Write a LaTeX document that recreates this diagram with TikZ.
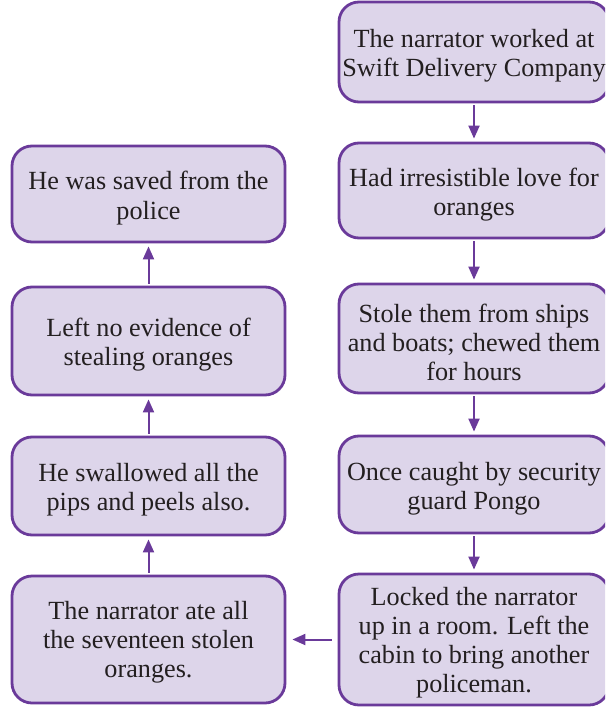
\documentclass[tikz,border=0pt]{standalone}
\usepackage{fontspec}
\setmainfont{Liberation Serif}
\usetikzlibrary{arrows.meta}
\definecolor{boxfill}{HTML}{DDD5EA}
\definecolor{boxline}{HTML}{6A3A9A}
\definecolor{txt}{HTML}{231F20}
\begin{document}
\begin{tikzpicture}[x=1pt,y=1pt,
  box/.style={draw=boxline, fill=boxfill, line width=2.8pt, rounded corners=20pt, inner sep=0pt},
  rbox/.style={box, minimum width=270pt},
  lbox/.style={box, minimum width=273pt},
  lbl/.style={align=center, font=\fontsize{26.2}{29.2}\selectfont, text=txt, inner sep=0pt},
  conn/.style={draw=boxline, line width=2pt, -{Triangle[length=13pt,width=11pt]},
    shorten >=3pt, shorten <=2pt}]
\useasboundingbox (0,0) rectangle (605,-708);
\clip (0,0) rectangle (605,-708);
% right column
\node[rbox, minimum height=100pt] (r1) at (474,-52) {};
\node[rbox, minimum height=95pt] (r2) at (474,-190.5) {};
\node[rbox, minimum height=109pt] (r3) at (474,-338.5) {};
\node[rbox, minimum height=97pt] (r4) at (474,-484.5) {};
\node[rbox, minimum height=131pt] (r5) at (474,-639.5) {};
\node[lbl] (r1t) at ([yshift=-4pt]r1.center) {The narrator worked at\\Swift Delivery Company};
\node[lbl] (r2t) at ([yshift=-4pt]r2.center) {Had irresistible love for\\oranges};
\node[lbl] (r3t) at ([yshift=-4pt]r3.center) {Stole them from ships\\and boats; chewed them\\for hours};
\node[lbl] (r4t) at ([yshift=-4pt]r4.center) {Once caught by security\\guard Pongo};
\node[lbl] (r5t) at ([yshift=-3pt]r5.center) {Locked the narrator\\up in a room. Left the\\cabin to bring another\\policeman.};
% left column
\node[lbox, minimum height=96pt] (l1) at (148.5,-194) {};
\node[lbox, minimum height=108pt] (l2) at (148.5,-341) {};
\node[lbox, minimum height=98pt] (l3) at (148.5,-486) {};
\node[lbox, minimum height=127pt] (l4) at (148.5,-639.5) {};
\node[lbl] (l1t) at ([yshift=-4pt]l1.center) {He was saved from the\\police};
\node[lbl] (l2t) at ([yshift=-4pt]l2.center) {Left no evidence of\\stealing oranges};
\node[lbl] (l3t) at ([yshift=-4pt]l3.center) {He swallowed all the\\pips and peels also.};
\node[lbl] (l4t) at ([yshift=-3pt]l4.center) {The narrator ate all\\the seventeen stolen\\oranges.};
% connectors
\draw[conn] (r1) -- (r2);
\draw[conn] (r2) -- (r3);
\draw[conn] (r3) -- (r4);
\draw[conn] (r4) -- (r5);
\draw[conn, shorten >=6pt, shorten <=6pt] (r5.west |- l4.east) -- (l4.east);
\draw[conn] (l4) -- (l3);
\draw[conn] (l3) -- (l2);
\draw[conn] (l2) -- (l1);
\end{tikzpicture}
\end{document}
